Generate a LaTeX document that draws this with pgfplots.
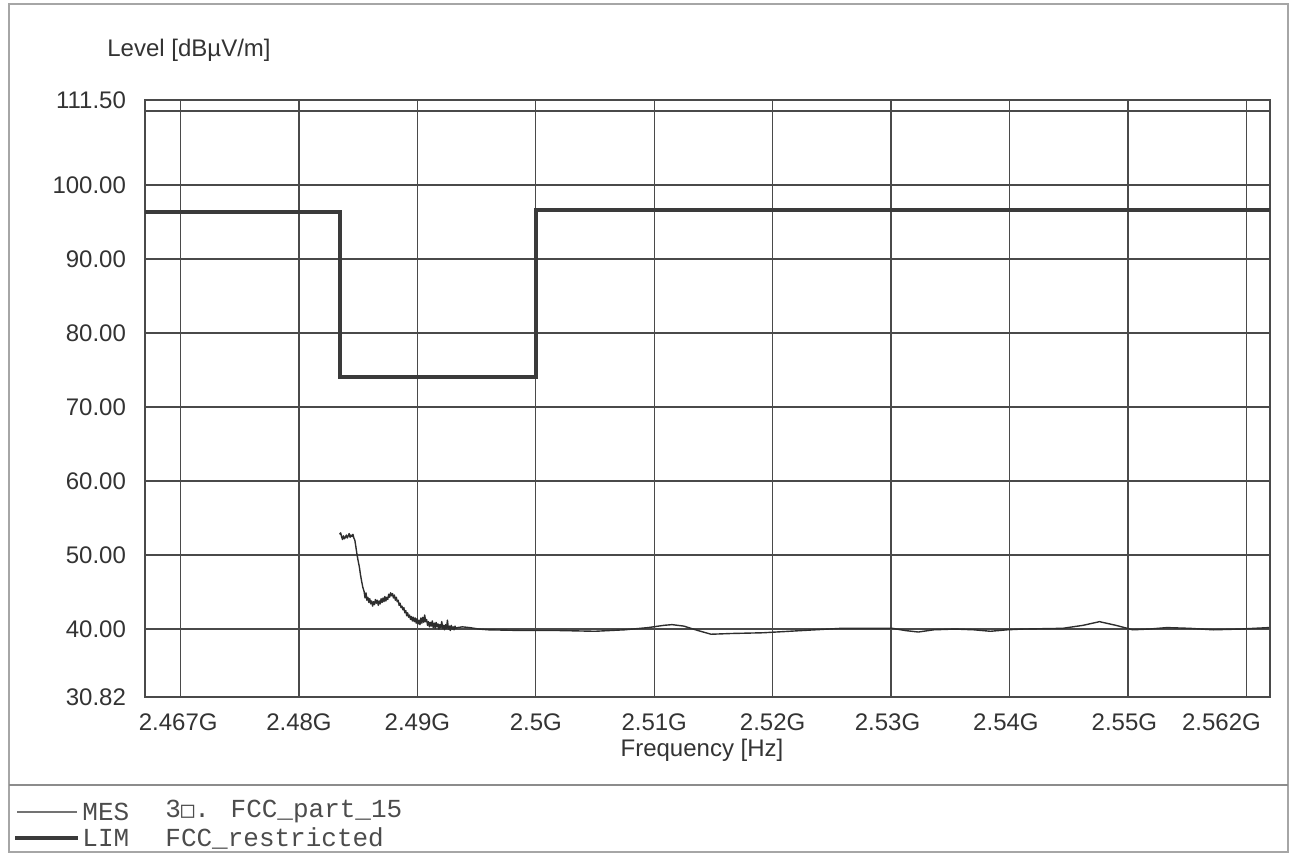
\documentclass[border=0pt]{standalone}
\usepackage{pgfplots}
\pgfplotsset{compat=1.18}
\usepackage{fontspec}
\setmainfont{Liberation Sans}
\newfontfamily\legmono{Liberation Mono}
\newfontfamily\dejamono{DejaVu Sans Mono}
\definecolor{gridc}{HTML}{4A4A4A}
\definecolor{limc}{HTML}{3A3A3A}
\definecolor{mesc}{HTML}{2E2E2E}
\definecolor{txt}{HTML}{333333}
\begin{document}
\begin{tikzpicture}
\path[use as bounding box] (0,0) rectangle (646.5pt,427pt);
% outer frame and separator
\draw[black!35, line width=0.6pt] (4.5pt,1pt) rectangle (644pt,425pt);
\draw[black!45, line width=0.7pt] (4.5pt,34.5pt) -- (644pt,34.5pt);
% legend
\draw[black!55, line width=0.6pt] (8.5pt,21pt) -- (38.5pt,21pt);
\draw[limc, line width=2pt] (7.5pt,8pt) -- (39pt,8pt);
\node[anchor=west, inner sep=0pt, text=black!70, font=\legmono\fontsize{13}{15}\selectfont] at (41pt,21pt) {MES};
\node[anchor=west, inner sep=0pt, text=black!70, font=\legmono\fontsize{13}{15}\selectfont] at (82.5pt,21pt) {3{\dejamono\fontsize{11}{13}\selectfont □}. FCC\_part\_15};
\node[anchor=west, inner sep=0pt, text=black!70, font=\legmono\fontsize{13}{15}\selectfont] at (41pt,8pt) {LIM};
\node[anchor=west, inner sep=0pt, text=black!70, font=\legmono\fontsize{13}{15}\selectfont] at (82.5pt,8pt) {FCC\_restricted};
% axis titles
\node[anchor=west, inner sep=0pt, text=txt, font=\fontsize{12}{14}\selectfont] at (53.5pt,402pt) {Level [dBµV/m]};
\node[inner sep=0pt, text=txt, font=\fontsize{12}{14}\selectfont] at (351pt,52pt) {Frequency [Hz]};
\begin{axis}[
  at={(72.5pt,78.5pt)}, anchor=south west,
  scale only axis, width=562.5pt, height=298.5pt,
  xmin=2.467, xmax=2.562, ymin=30.82, ymax=111.5,
  xtick={2.47,2.48,2.49,2.50,2.51,2.52,2.53,2.54,2.55,2.56},
  xticklabels={},
  extra x ticks={2.4698,2.48,2.49,2.50,2.51,2.52,2.5297,2.5397,2.5497,2.5579},
  extra x tick labels={2.467G,2.48G,2.49G,2.5G,2.51G,2.52G,2.53G,2.54G,2.55G,2.562G},
  extra x tick style={grid=none},
  ytick={30.82,40,50,60,70,80,90,100,110,111.5},
  yticklabels={30.82,40.00,50.00,60.00,70.00,80.00,90.00,100.00,,111.50},
  grid=major,
  major grid style={gridc, line width=0.7pt},
  axis line style={gridc, line width=0.8pt},
  tick style={draw=none},
  /pgf/number format/assume math mode=true,
  ticklabel style={font=\fontsize{12}{14}\selectfont, text=txt},
  xticklabel style={yshift=-5pt},
  yticklabel style={xshift=-6pt},
  clip=true,
]
% limit line
\addplot[limc, line width=2pt, line join=miter] coordinates {
(2.467,96.4) (2.4835,96.4) (2.4835,74.0) (2.5,74.0) (2.5,96.6) (2.562,96.6)
};
% measurement
\addplot[mesc, line width=0.7pt, line join=round] coordinates {
(2.48343,52.8) (2.48352,53.0) (2.48360,52.5) (2.48368,52.1) (2.48376,52.6)
(2.48384,52.2) (2.48392,52.4) (2.48400,52.7) (2.48408,52.3) (2.48416,52.6)
(2.48424,52.9) (2.48432,52.4) (2.48440,52.7) (2.48448,52.5) (2.48456,52.8)
(2.48464,52.3) (2.48472,52.0) (2.48480,51.2) (2.48490,50.1) (2.48500,49.2)
(2.48510,48.4) (2.48520,47.3) (2.48530,46.4) (2.48540,45.6) (2.48550,45.1)
(2.48558,44.2) (2.48566,44.9) (2.48574,43.9) (2.48582,44.3) (2.48590,43.6)
(2.48598,44.1) (2.48606,43.4) (2.48614,43.8) (2.48622,43.1) (2.48630,43.7)
(2.48638,43.3) (2.48646,44.0) (2.48654,43.5) (2.48662,43.9) (2.48670,43.2)
(2.48678,43.8) (2.48686,43.4) (2.48694,44.1) (2.48702,43.6) (2.48710,44.2)
(2.48718,43.7) (2.48726,44.4) (2.48734,43.8) (2.48742,44.3) (2.48750,44.0)
(2.48758,44.7) (2.48766,44.3) (2.48774,44.9) (2.48782,44.5) (2.48790,44.8)
(2.48798,44.2) (2.48806,44.6) (2.48814,43.9) (2.48822,44.3) (2.48830,43.7)
(2.48838,43.9) (2.48846,43.2) (2.48854,43.5) (2.48862,42.9) (2.48870,43.1)
(2.48878,42.6) (2.48886,42.9) (2.48894,42.2) (2.48902,42.5) (2.48910,41.8)
(2.48918,42.2) (2.48926,41.6) (2.48934,41.9) (2.48942,41.3) (2.48950,41.7)
(2.48958,41.1) (2.48966,41.6) (2.48974,41.0) (2.48982,41.5) (2.48990,40.8)
(2.48998,41.4) (2.49006,40.7) (2.49014,41.2) (2.49022,40.6) (2.49030,41.5)
(2.49038,40.8) (2.49046,41.6) (2.49054,40.9) (2.49062,41.9) (2.49070,41.0)
(2.49078,41.3) (2.49086,40.5) (2.49094,41.0) (2.49102,40.3) (2.49110,40.9)
(2.49118,40.4) (2.49126,41.1) (2.49134,40.2) (2.49142,40.8) (2.49150,40.1)
(2.49158,40.9) (2.49166,40.3) (2.49174,40.7) (2.49182,40.0) (2.49190,40.6)
(2.49198,40.2) (2.49206,41.0) (2.49214,40.1) (2.49222,40.5) (2.49230,39.9)
(2.49238,40.6) (2.49246,40.1) (2.49254,41.2) (2.49262,40.0) (2.49270,40.4)
(2.49278,39.8) (2.49286,40.5) (2.49294,40.0) (2.49302,40.3) (2.49310,39.9)
(2.49318,40.4) (2.49326,40.1) (2.49340,40.2) (2.49380,40.3) (2.49440,40.2)
(2.49520,40.0) (2.49600,39.9) (2.4990,39.8) (2.5020,39.8) (2.5050,39.7)
(2.5075,39.9) (2.5095,40.2) (2.5108,40.5) (2.5115,40.6) (2.5125,40.4)
(2.5137,39.8) (2.5148,39.3) (2.5165,39.4) (2.5192,39.5) (2.5225,39.8)
(2.5258,40.1) (2.5301,40.1) (2.5312,39.8) (2.5323,39.6) (2.5336,39.9)
(2.5354,40.0) (2.5370,39.9) (2.5384,39.7) (2.5398,39.9) (2.5411,40.0)
(2.5445,40.1) (2.5462,40.5) (2.5476,41.0) (2.5490,40.5) (2.5504,39.9)
(2.5518,40.0) (2.5533,40.2) (2.5552,40.1) (2.5572,39.9) (2.5595,40.0)
(2.5619,40.2)
};
\end{axis}
\end{tikzpicture}
\end{document}
